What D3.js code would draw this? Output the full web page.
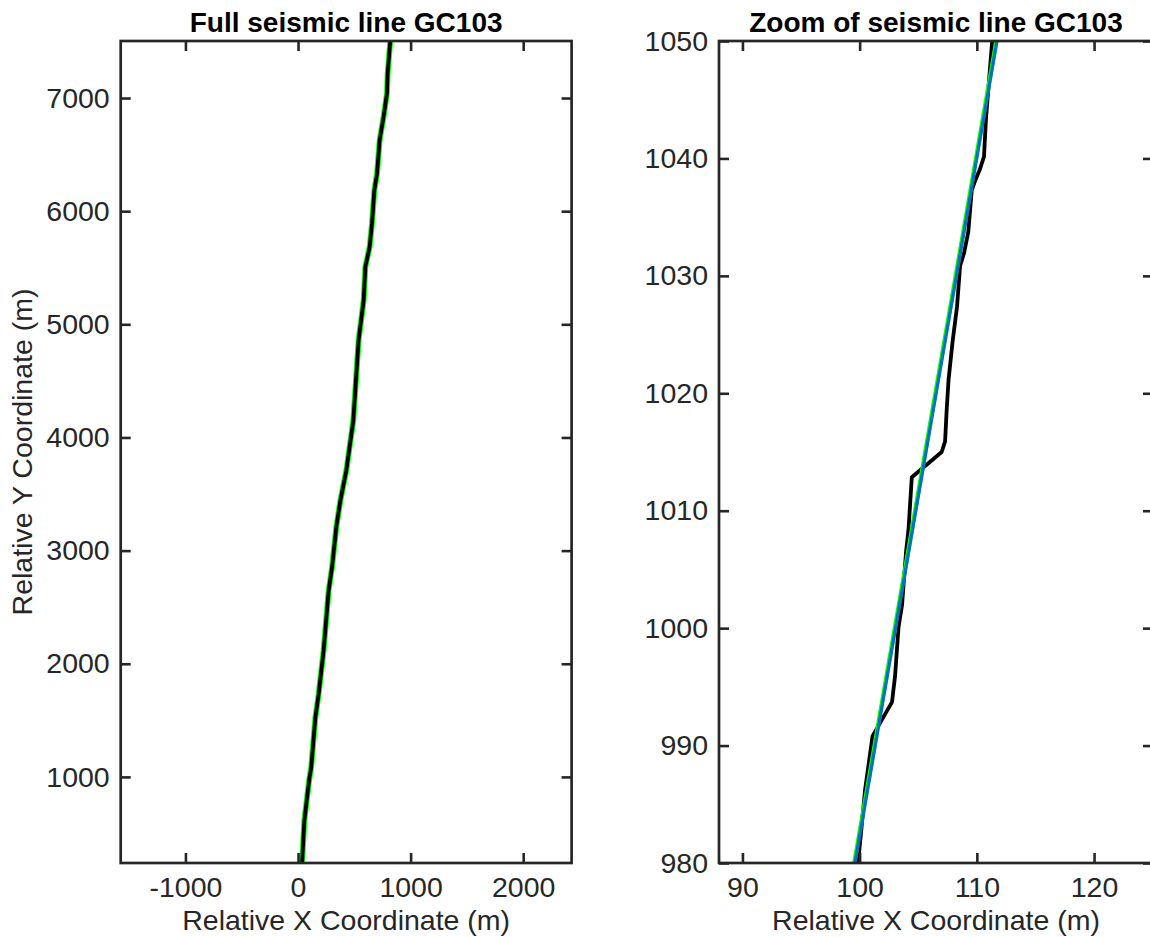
<!DOCTYPE html>
<html>
<head>
<meta charset="utf-8">
<script src="https://cdn.jsdelivr.net/npm/d3@7"></script>
<style>
  html, body { margin: 0; padding: 0; background: #fff; }
  svg { display: block; font-family: "Liberation Sans", Arial, Helvetica, sans-serif; }
</style>
</head>
<body>
<svg id="fig" width="1150" height="937"></svg>
<script>
// ---- Titles and axis labels ----
const fullTitle = "Full seismic line GC103";
const zoomTitle = "Zoom of seismic line GC103";
const xLabel = "Relative X Coordinate (m)";
const yLabel = "Relative Y Coordinate (m)";

// ---- Full line track (relative coordinates, m) ----
const fullX = [36, 56, 80, 100, 117, 154, 183, 227, 272, 302, 340, 376, 429, 491, 538, 583, 598, 636, 657, 678, 702, 725, 760, 790, 796, 820];
const fullY = [239, 611, 816, 980, 1082, 1524, 1731, 2115, 2646, 2852, 3206, 3442, 3707, 4150, 4858, 5212, 5507, 5684, 5891, 6185, 6333, 6628, 6834, 7041, 7218, 7510];

// ---- Zoomed section: raw navigation points ----
const zoomX = [99.86, 100.12, 100.46, 101.10, 102.76, 103.02, 103.32, 103.62, 103.96, 104.17, 104.45, 107.0, 107.29, 107.43, 107.59, 107.93, 108.31, 108.57, 108.9, 109.27, 109.56, 109.85, 110.27, 110.61, 110.7, 110.78, 111.35];
const zoomY = [980.0, 982.6, 986.2, 990.8, 993.7, 995.9, 1000.1, 1002.0, 1006.5, 1008.4, 1012.85, 1015.0, 1015.9, 1018.65, 1021.2, 1024.4, 1027.4, 1030.85, 1031.9, 1033.75, 1037.25, 1038.1, 1039.1, 1040.15, 1041.9, 1043.4, 1050.5];

// ---- Zoomed section: smoothed track and straight fit ----
const smoothX = [99.54, 111.66];
const smoothY = [980, 1050];
const fitX = [99.6, 111.72];
const fitY = [980, 1050];

// ---- Tick values ----
const fullXTicks = [-1000, 0, 1000, 2000];
const fullYTicks = [1000, 2000, 3000, 4000, 5000, 6000, 7000];
const zoomXTicks = [90, 100, 110, 120];
const zoomYTicks = [980, 990, 1000, 1010, 1020, 1030, 1040, 1050];

const AX = "#262626";
const svg = d3.select("#fig");
const plain = d => (d < 0 ? "-" : "") + Math.abs(d);

function toPts(xs, ys) { return xs.map((x, i) => [x, ys[i]]); }

function panel(opts) {
  const { id, left, right, top, bottom, xDomain, yDomain, xTicks, yTicks, title } = opts;
  const x = d3.scaleLinear().domain(xDomain).range([left, right]);
  const y = d3.scaleLinear().domain(yDomain).range([bottom, top]);
  const g = svg.append("g");

  g.append("clipPath").attr("id", id)
    .append("rect").attr("x", left).attr("y", top)
    .attr("width", right - left).attr("height", bottom - top);

  const plot = g.append("g").attr("clip-path", `url(#${id})`);
  const line = d3.line().x(d => x(d[0])).y(d => y(d[1]));

  // axes with inward ticks on all four sides
  const tick = 10;
  const axes = [
    [d3.axisBottom(x).tickValues(xTicks).tickSizeInner(-tick).tickSizeOuter(0).tickPadding(14).tickFormat(plain), `translate(0,${bottom})`],
    [d3.axisTop(x).tickValues(xTicks).tickSizeInner(-tick).tickSizeOuter(0).tickFormat(""), `translate(0,${top})`],
    [d3.axisLeft(y).tickValues(yTicks).tickSizeInner(-tick).tickSizeOuter(0).tickPadding(11).tickFormat(plain), `translate(${left},0)`],
    [d3.axisRight(y).tickValues(yTicks).tickSizeInner(-tick).tickSizeOuter(0).tickFormat(""), `translate(${right},0)`]
  ];
  axes.forEach(([ax, tr]) => {
    const a = g.append("g").attr("transform", tr).call(ax);
    a.select(".domain").remove();
    a.selectAll(".tick line").attr("stroke", AX).attr("stroke-width", 2.6);
    a.selectAll(".tick text").attr("fill", AX).attr("font-size", 28.5)
      .attr("font-family", "Liberation Sans, Arial, sans-serif");
  });

  g.append("rect").attr("x", left).attr("y", top)
    .attr("width", right - left).attr("height", bottom - top)
    .attr("fill", "none").attr("stroke", AX).attr("stroke-width", 2.7);

  g.append("text").attr("x", (left + right) / 2).attr("y", 32)
    .attr("text-anchor", "middle").attr("font-weight", "bold")
    .attr("font-size", 28).attr("fill", "#000").text(title);

  g.append("text").attr("x", (left + right) / 2).attr("y", 930)
    .attr("text-anchor", "middle").attr("font-size", 28.5)
    .attr("fill", AX).text(xLabel);

  return { plot, line, g };
}

// ---- Left panel: full line ----
const L = panel({
  id: "clipFull", left: 120.7, right: 571.6, top: 41, bottom: 863,
  xDomain: [-1575, 2430], yDomain: [239, 7504],
  xTicks: fullXTicks, yTicks: fullYTicks, title: fullTitle
});
const fullPts = toPts(fullX, fullY);
L.plot.append("path").attr("d", L.line(fullPts))
  .attr("fill", "none").attr("stroke", "#00ff00").attr("stroke-width", 5.8)
  .attr("stroke-linejoin", "round");
L.plot.append("path").attr("d", L.line(fullPts))
  .attr("fill", "none").attr("stroke", "#000").attr("stroke-width", 3.8)
  .attr("stroke-linejoin", "round");

svg.append("text")
  .attr("transform", "translate(32,452) rotate(-90)")
  .attr("text-anchor", "middle").attr("font-size", 28.5)
  .attr("fill", AX).text(yLabel);

// ---- Right panel: zoomed section ----
const R = panel({
  id: "clipZoom", left: 719, right: 1153, top: 41, bottom: 863,
  xDomain: [88, 125.03], yDomain: [980, 1050],
  xTicks: zoomXTicks, yTicks: zoomYTicks, title: zoomTitle
});
R.plot.append("path").attr("d", R.line(toPts(zoomX, zoomY)))
  .attr("fill", "none").attr("stroke", "#000").attr("stroke-width", 3.8)
  .attr("stroke-linejoin", "round");
R.plot.append("path").attr("d", R.line(toPts(smoothX, smoothY)))
  .attr("fill", "none").attr("stroke", "#00ff00").attr("stroke-width", 4.2);
R.plot.append("path").attr("d", R.line(toPts(fitX, fitY)))
  .attr("fill", "none").attr("stroke", "#0072BD").attr("stroke-width", 3.2);
</script>
</body>
</html>
